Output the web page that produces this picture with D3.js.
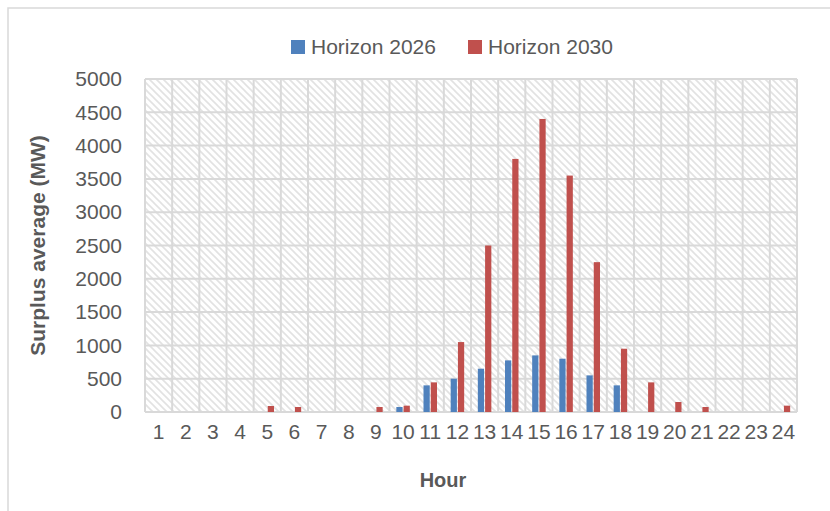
<!DOCTYPE html>
<html>
<head>
<meta charset="utf-8">
<script src="https://cdn.jsdelivr.net/npm/d3@7"></script>
<style>
  html, body { margin: 0; padding: 0; background: #fff; }
  svg { display: block; }
  text { font-family: "Liberation Sans", Arial, sans-serif; fill: #595959; }
</style>
</head>
<body>
<svg id="chart" width="830" height="511"></svg>
<script>
const hours = d3.range(1, 25).map(String);
const seriesNames = ["Horizon 2026", "Horizon 2030"];
const seriesColors = ["#4f81bd", "#c0504d"];
const horizon2026 = [0, 0, 0, 0, 0, 0, 0, 0, 0, 75, 400, 500, 650, 775, 850, 800, 550, 400, 0, 0, 0, 0, 0, 0];
const horizon2030 = [0, 0, 0, 0, 90, 75, 0, 0, 75, 95, 445, 1050, 2500, 3800, 4400, 3550, 2250, 950, 445, 150, 75, 0, 0, 95];
const yTicks = [0, 500, 1000, 1500, 2000, 2500, 3000, 3500, 4000, 4500, 5000];
const yTitle = "Surplus average (MW)";
const xTitle = "Hour";

const svg = d3.select("#chart");
const plot = { left: 145, right: 797, top: 79, bottom: 412 };

// outer border
svg.append("rect").attr("x", 8).attr("y", 8).attr("width", 840).attr("height", 520)
  .attr("fill", "#fff").attr("stroke", "#d9d9d9").attr("stroke-width", 1.5);

// hatch pattern
const defs = svg.append("defs");
const pat = defs.append("pattern").attr("id", "hatch")
  .attr("patternUnits", "userSpaceOnUse").attr("width", 7).attr("height", 7);
pat.append("rect").attr("width", 7).attr("height", 7).attr("fill", "#fff");
pat.append("path").attr("d", "M-1,-1 L8,8 M-1,6 L1,8 M6,-1 L8,1")
  .attr("stroke", "#e2e2e2").attr("stroke-width", 1.6);

const x = d3.scaleBand().domain(hours).range([plot.left, plot.right]).padding(0);
const y = d3.scaleLinear().domain([0, 5000]).range([plot.bottom, plot.top]);
const groupW = 13.5;
const xs = d3.scaleBand().domain(seriesNames).range([0, groupW]).paddingInner(0.14);

svg.append("rect").attr("x", plot.left).attr("y", plot.top)
  .attr("width", plot.right - plot.left).attr("height", plot.bottom - plot.top)
  .attr("fill", "url(#hatch)");

// gridlines
const grid = svg.append("g").attr("stroke", "#d9d9d9").attr("stroke-width", 2);
grid.selectAll("line.h").data(yTicks).join("line").attr("class", "h")
  .attr("x1", plot.left).attr("x2", plot.right)
  .attr("y1", d => y(d)).attr("y2", d => y(d));
const bounds = hours.map(h => x(h)).concat([plot.right]);
grid.selectAll("line.v").data(bounds).join("line").attr("class", "v")
  .attr("x1", d => d).attr("x2", d => d)
  .attr("y1", plot.top).attr("y2", plot.bottom);

// bars
const data = [horizon2026, horizon2030];
data.forEach((vals, si) => {
  svg.append("g").selectAll("rect").data(vals).join("rect")
    .attr("x", (d, i) => x(hours[i]) + x.bandwidth() / 2 - groupW / 2 + xs(seriesNames[si]))
    .attr("width", xs.bandwidth())
    .attr("y", d => y(d))
    .attr("height", d => y(0) - y(d))
    .attr("fill", seriesColors[si]);
});

// y axis
const yAxis = d3.axisLeft(y).tickValues(yTicks).tickSize(0).tickPadding(0).tickFormat(d3.format("d"));
const gy = svg.append("g").attr("transform", "translate(122,0)").call(yAxis);
gy.select(".domain").remove();
gy.selectAll("text").attr("font-size", 21).attr("fill", "#595959")
  .attr("font-family", "Liberation Sans, Arial, sans-serif");

// x axis
const xAxis = d3.axisBottom(x).tickSize(0).tickPadding(0);
const gx = svg.append("g").attr("transform", "translate(0,424)").call(xAxis);
gx.select(".domain").remove();
gx.selectAll("text").attr("font-size", 21).attr("fill", "#595959")
  .attr("font-family", "Liberation Sans, Arial, sans-serif");

// titles
svg.append("text").attr("x", 443).attr("y", 486.5).attr("text-anchor", "middle")
  .attr("font-size", 20).attr("font-weight", "bold").text(xTitle);
svg.append("text").attr("transform", "translate(44.5,245.5) rotate(-90)")
  .attr("text-anchor", "middle").attr("font-size", 21).attr("font-weight", "bold").text(yTitle);

// legend
const legendX = [291, 468];
seriesNames.forEach((n, i) => {
  svg.append("rect").attr("x", legendX[i]).attr("y", 40).attr("width", 14).attr("height", 14)
    .attr("fill", seriesColors[i]);
  svg.append("text").attr("x", legendX[i] + 20).attr("y", 54).attr("font-size", 21).text(n);
});
</script>
</body>
</html>
